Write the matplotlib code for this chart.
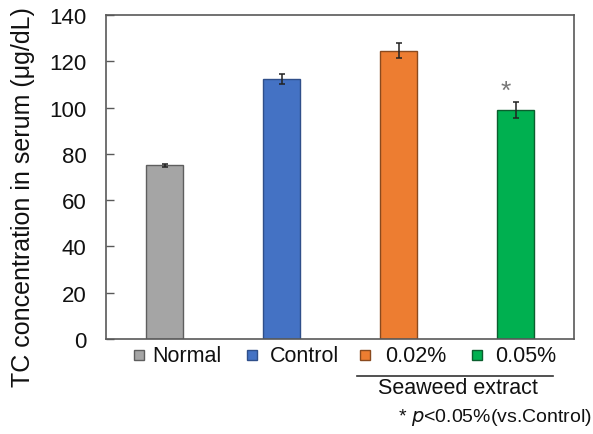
import matplotlib
matplotlib.use("Agg")
import matplotlib.pyplot as plt
from matplotlib.patches import Rectangle
from matplotlib.lines import Line2D

categories = ["Normal", "Control", "0.02%", "0.05%"]
values = [75.0, 112.4, 124.6, 99.0]
errors = [0.7, 2.3, 3.2, 3.5]
significant = [False, False, False, True]
yticks = [0, 20, 40, 60, 80, 100, 120, 140]

fill_colors = ["#A5A5A5", "#4472C4", "#ED7D31", "#00B050"]
edge_colors = ["#5E5E5E", "#2F4F8A", "#8A4A1E", "#0B5E2E"]

plt.rcParams["font.family"] = ["Liberation Sans", "DejaVu Sans"]

W, H = 593, 435
fig = plt.figure(figsize=(W / 100, H / 100), dpi=100)


def fx(x):
    return x / W


def fy(y):
    return 1 - y / H


ax = fig.add_axes([fx(106), fy(340), fx(574) - fx(106), fy(16) - fy(340)])

xs = list(range(len(categories)))
ax.bar(xs, values, width=0.31, color=fill_colors, edgecolor=edge_colors,
       linewidth=1.0, zorder=2)
ax.errorbar(xs, values, yerr=errors, fmt="none", ecolor="#222222",
            elinewidth=1.1, capsize=2.5, capthick=1.1, zorder=3)
for x, v, e, s in zip(xs, values, errors, significant):
    if s:
        ax.text(x - 0.08, v + e - 0.5, "*", ha="center", va="bottom",
                fontsize=19, color="#777777")

ax.set_xlim(-0.5, 3.5)
ax.set_ylim(0, 140)
ax.set_yticks(yticks)
ax.set_xticks([])
ax.tick_params(axis="y", direction="in", length=6, width=1, color="#595959",
               labelsize=16, pad=14, labelcolor="#111111")
for sp in ax.spines.values():
    sp.set_color("#595959")
    sp.set_linewidth(1.2)

fig.text(fx(23), fy(197), "TC concentration in serum (\u03bcg/dL)",
         rotation=90, ha="center", va="center", fontsize=18, color="#111111")

# legend row drawn below the axes
sq_x = [134, 247, 360, 472]
txt_x = [152, 270, 385, 495]
sq = 10
for c, fc, ec, sx, tx in zip(categories, fill_colors, edge_colors, sq_x, txt_x):
    fig.add_artist(Rectangle((fx(sx), fy(361)), fx(sq), fy(0) - fy(sq),
                             facecolor=fc, edgecolor=ec, linewidth=1,
                             transform=fig.transFigure))
    fig.text(fx(tx), fy(356), c, ha="left", va="center", fontsize=15.5,
             color="#111111")

fig.add_artist(Line2D([fx(357), fx(553)], [fy(377), fy(377)], color="#333333",
                      linewidth=1.2, transform=fig.transFigure))
fig.text(fx(458), fy(388), "Seaweed extract", ha="center", va="center",
         fontsize=15.5, color="#111111")
fig.text(fx(592), fy(418), r"* $\it{p}$<0.05%(vs.Control)", ha="right",
         va="center", fontsize=14, color="#111111")

fig.savefig("out.png", dpi=100)
